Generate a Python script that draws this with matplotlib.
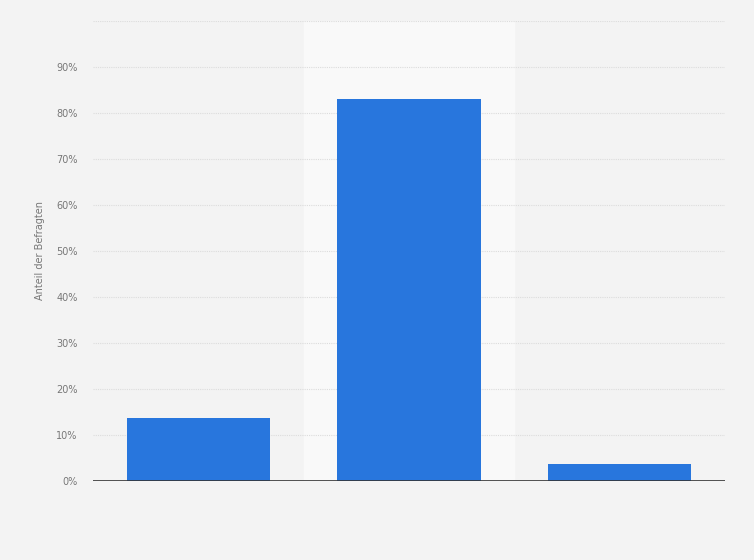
import numpy as np
import matplotlib.pyplot as plt

categories = ["A", "B", "C"]
values = [13.7, 83.0, 3.7]
yticks = [0, 10, 20, 30, 40, 50, 60, 70, 80, 90]

bg = "#f3f3f3"
fig = plt.figure(figsize=(7.54, 5.6), dpi=100, facecolor=bg)
ax = fig.add_axes([93 / 754, 1 - 481 / 560, 632 / 754, 460 / 560])
ax.set_facecolor(bg)

x = np.arange(len(categories))
ax.axvspan(0.5, 1.5, color="#f9f9f9", zorder=0)

for t in yticks[1:] + [100]:
    ax.axhline(t, color="#dcdcdc", lw=0.8, ls=(0, (1, 1)), zorder=1)

ax.bar(x, values, width=0.68, color="#2876dd", zorder=2)
ax.axhline(0, color="#333333", lw=1.2, zorder=3)

ax.set_xlim(-0.5, 2.5)
ax.set_ylim(0, 100)
ax.set_yticks(yticks)
ax.set_yticklabels([f"{t}%" for t in yticks], fontsize=7, color="#777777")
ax.set_xticks([])
ax.tick_params(axis="y", length=0, pad=11)
for s in ax.spines.values():
    s.set_visible(False)

ax.set_ylabel("Anteil der Befragten", fontsize=7, color="#777777", labelpad=8)

fig.savefig("out.png", dpi=100, facecolor=bg)
